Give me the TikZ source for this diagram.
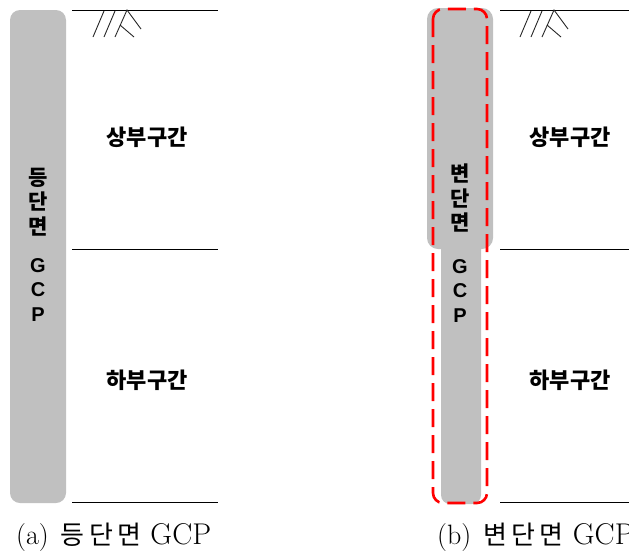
\documentclass[tikz,border=0pt]{standalone}
\usepackage{fontspec}
\newfontfamily\kr{Noto Sans CJK KR}
\newfontfamily\lsans{Liberation Sans}
\definecolor{pilegray}{RGB}{192,192,192}
\definecolor{dashred}{RGB}{255,0,0}
\tikzset{
  pile/.style={fill=pilegray, draw=none},
  ground/.style={draw=black, line width=0.9pt},
  hatchline/.style={draw=black!85, line width=0.9pt},
  zonelabel/.style={font=\kr\bfseries\fontsize{22}{24}\selectfont, inner sep=0pt},
  vkor/.style={font=\kr\bfseries\fontsize{21}{24.5}\selectfont, align=center, inner sep=0pt},
  vlat/.style={font=\lsans\bfseries\fontsize{20}{24.5}\selectfont, align=center, inner sep=0pt},
  caption/.style={font=\fontsize{28}{30}\selectfont, inner sep=0pt, anchor=base west},
  outline/.style={draw=dashred, line width=2.6pt, dash pattern=on 18pt off 8pt, rounded corners=10pt}
}
\newcommand\capkr[1]{{\kr\fontsize{26}{28}\selectfont\addfontfeature{LetterSpace=17}#1}}
\newcommand\caplat[1]{{\fontsize{30}{30}\selectfont #1}}
\begin{document}
\begin{tikzpicture}[x=1pt,y=-1pt]
\useasboundingbox (0,0) rectangle (629,550);
% ---------- (a) ----------
\fill[pile, rounded corners=10pt] (10,10) rectangle (66,503);
\coordinate (aT1) at (72,10);  \coordinate (aT2) at (218,10);
\coordinate (aM1) at (72,249); \coordinate (aM2) at (218,249);
\coordinate (aB1) at (72,502); \coordinate (aB2) at (218,502);
\draw[ground] (aT1) -- (aT2);
\draw[ground] (aM1) -- (aM2);
\draw[ground] (aB1) -- (aB2);
\begin{scope}
\draw[hatchline] (93,37) -- (104,11);
\draw[hatchline] (104,37) -- (115,11);
\draw[hatchline] (115,37) -- (127,10) -- (141,29);
\draw[hatchline] (120,25) -- (134,37);
\end{scope}
\node[vkor] (aKor) at (38,202) {등\\단\\면};
\node[vlat] (aGCP) at (38,290) {G\\C\\P};
\node[zonelabel] (aUp) at (147,137) {상부구간};
\node[zonelabel] (aLow) at (147,380) {하부구간};
\node[caption] (aCap) at (16,544) {(a)\hspace{12pt}\capkr{등단면}\hspace{9pt}\caplat{GCP}};
% ---------- (b) ----------
\fill[pile, rounded corners=9pt] (441,230) rectangle (481,504);
\fill[pile, rounded corners=11pt] (427,8) rectangle (493,249);
\draw[outline] (433,9) rectangle (487,503);
\coordinate (bT1) at (500,10);  \coordinate (bT2) at (629,10);
\coordinate (bM1) at (500,249); \coordinate (bM2) at (629,249);
\coordinate (bB1) at (500,502); \coordinate (bB2) at (629,502);
\draw[ground] (bT1) -- (bT2);
\draw[ground] (bM1) -- (bM2);
\draw[ground] (bB1) -- (bB2);
\begin{scope}[xshift=427pt]
\draw[hatchline] (93,37) -- (104,11);
\draw[hatchline] (104,37) -- (115,11);
\draw[hatchline] (115,37) -- (127,10) -- (141,29);
\draw[hatchline] (120,25) -- (134,37);
\end{scope}
\node[vkor] (bKor) at (460,198) {변\\단\\면};
\node[vlat] (bGCP) at (460,291) {G\\C\\P};
\node[zonelabel] (bUp) at (570,137) {상부구간};
\node[zonelabel] (bLow) at (570,380) {하부구간};
\node[caption] (bCap) at (437,544) {(b)\hspace{12pt}\capkr{변단면}\hspace{9pt}\caplat{GCP}};
\end{tikzpicture}
\end{document}
